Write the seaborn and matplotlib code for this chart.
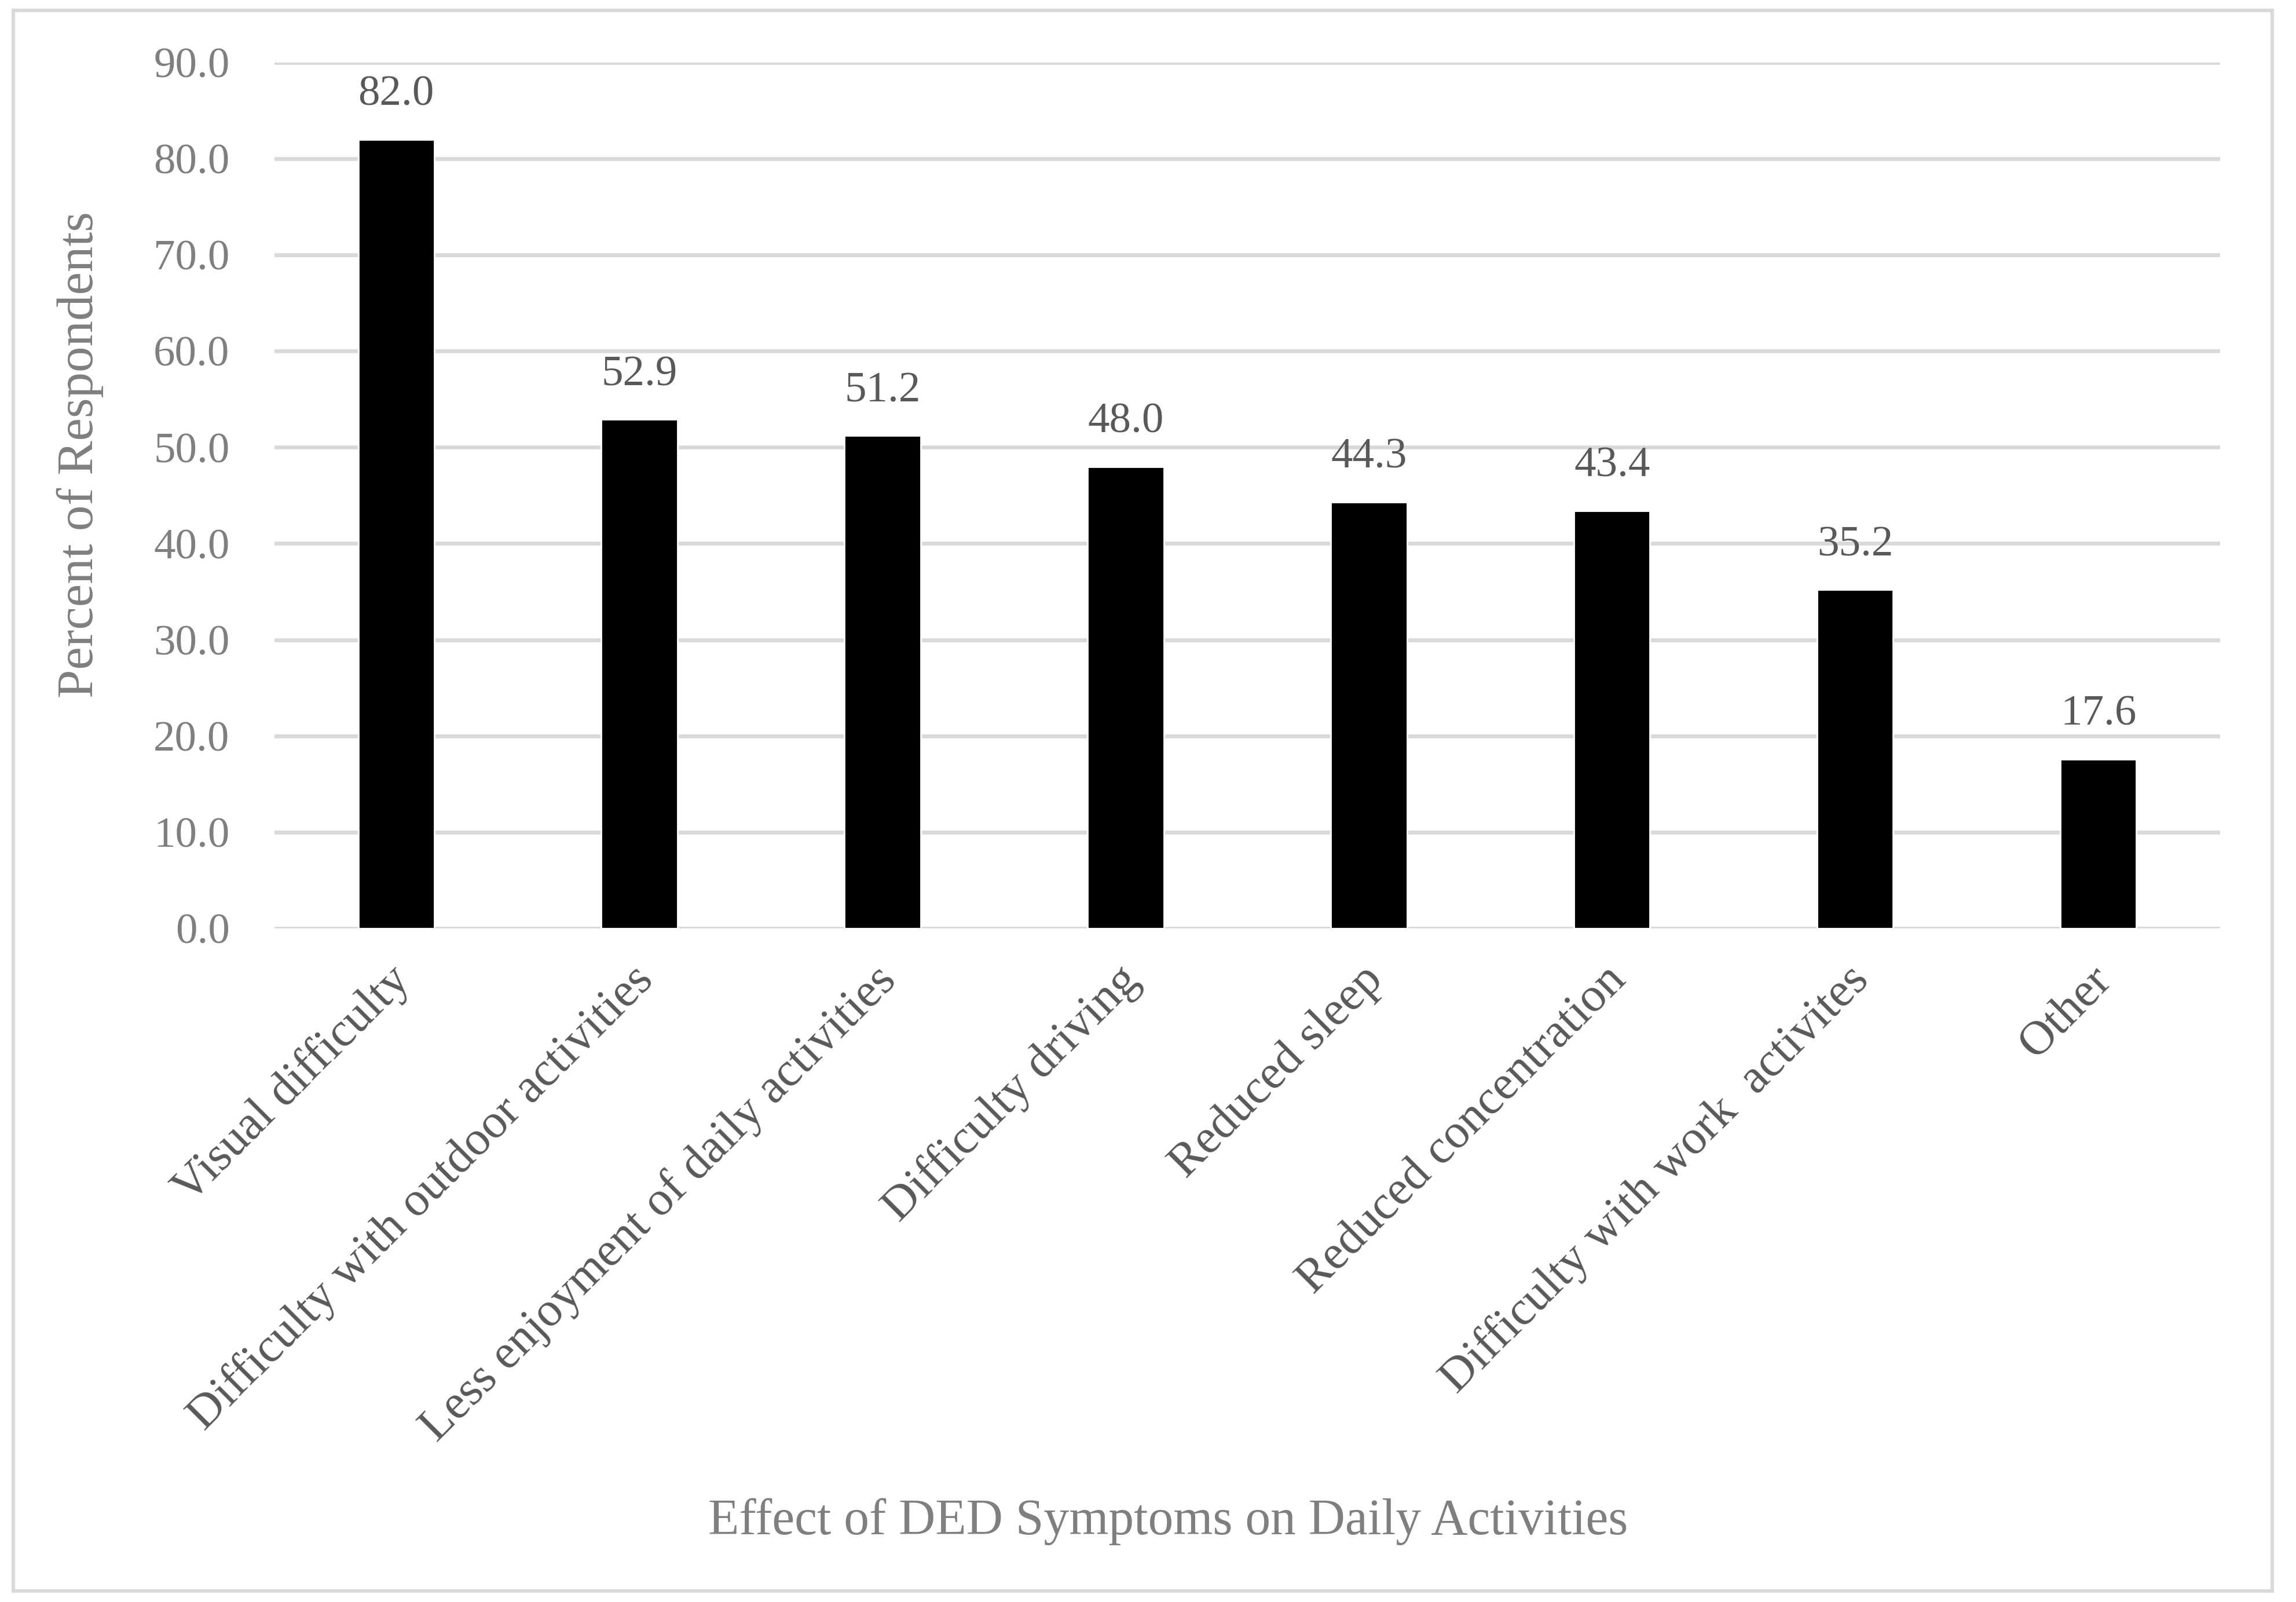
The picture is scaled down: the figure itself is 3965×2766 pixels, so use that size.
import matplotlib
matplotlib.use("Agg")
import matplotlib.pyplot as plt
import matplotlib.transforms as mtransforms
import seaborn as sns
import pandas as pd
from matplotlib.patches import Rectangle

categories = ["Visual difficulty", "Difficulty with outdoor activities",
              "Less enjoyment of daily activities", "Difficulty driving",
              "Reduced sleep", "Reduced concentration",
              "Difficulty with work  activites", "Other"]
values = [82.0, 52.9, 51.2, 48.0, 44.3, 43.4, 35.2, 17.6]
yticks = [0, 10, 20, 30, 40, 50, 60, 70, 80, 90]

sns.set_theme(style="white")
plt.rcParams['font.family'] = ['Liberation Serif', 'DejaVu Serif']

df = pd.DataFrame({"cat": categories, "val": values})

fig = plt.figure(figsize=(19.83, 13.83), dpi=200)
ax = fig.add_axes([0.1196, 0.4205, 0.847, 0.5405])

sns.barplot(data=df, x="cat", y="val", color="black", width=0.313,
            saturation=1, ax=ax, zorder=3)

ax.set_ylim(0, 90)
ax.set_xlim(-0.5, len(categories) - 0.5)
ax.set_yticks(yticks)
ax.set_yticklabels([f"{v:.1f}" for v in yticks])
ax.yaxis.grid(True, color="#d9d9d9", linewidth=2.4, zorder=0)
ax.set_axisbelow(True)
for s in ax.spines.values():
    s.set_visible(False)

ax.tick_params(axis="y", length=0, pad=28, labelsize=27, labelcolor="#7f7f7f")
ax.tick_params(axis="x", length=0, pad=28, labelsize=30, labelcolor="#595959")
shift = mtransforms.ScaledTranslation(0.06, 0, fig.dpi_scale_trans)
for lab in ax.get_xticklabels():
    lab.set_rotation(45)
    lab.set_ha("right")
    lab.set_va("center")
    lab.set_rotation_mode("anchor")
    lab.set_transform(lab.get_transform() + shift)

for i, v in enumerate(values):
    ax.annotate(f"{v:.1f}", xy=(i, v), xytext=(0, 15.5), textcoords="offset points",
                ha="center", va="bottom", fontsize=27, color="#595959")

ax.set_xlabel("")
ax.set_ylabel("")
fig.text(0.0348, 0.716, "Percent of Respondents", rotation=90,
         ha="center", va="center", fontsize=32, color="#7f7f7f")
fig.text(0.5086, 0.05, "Effect of DED Symptoms on Daily Activities",
         ha="center", va="center", fontsize=31.5, color="#7f7f7f")

fig.patches.append(Rectangle((0.0058, 0.0069), 0.9836, 0.9866, transform=fig.transFigure,
                             fill=False, edgecolor="#d9d9d9", linewidth=2.2))

fig.savefig("out.png", dpi=200, facecolor="white")
